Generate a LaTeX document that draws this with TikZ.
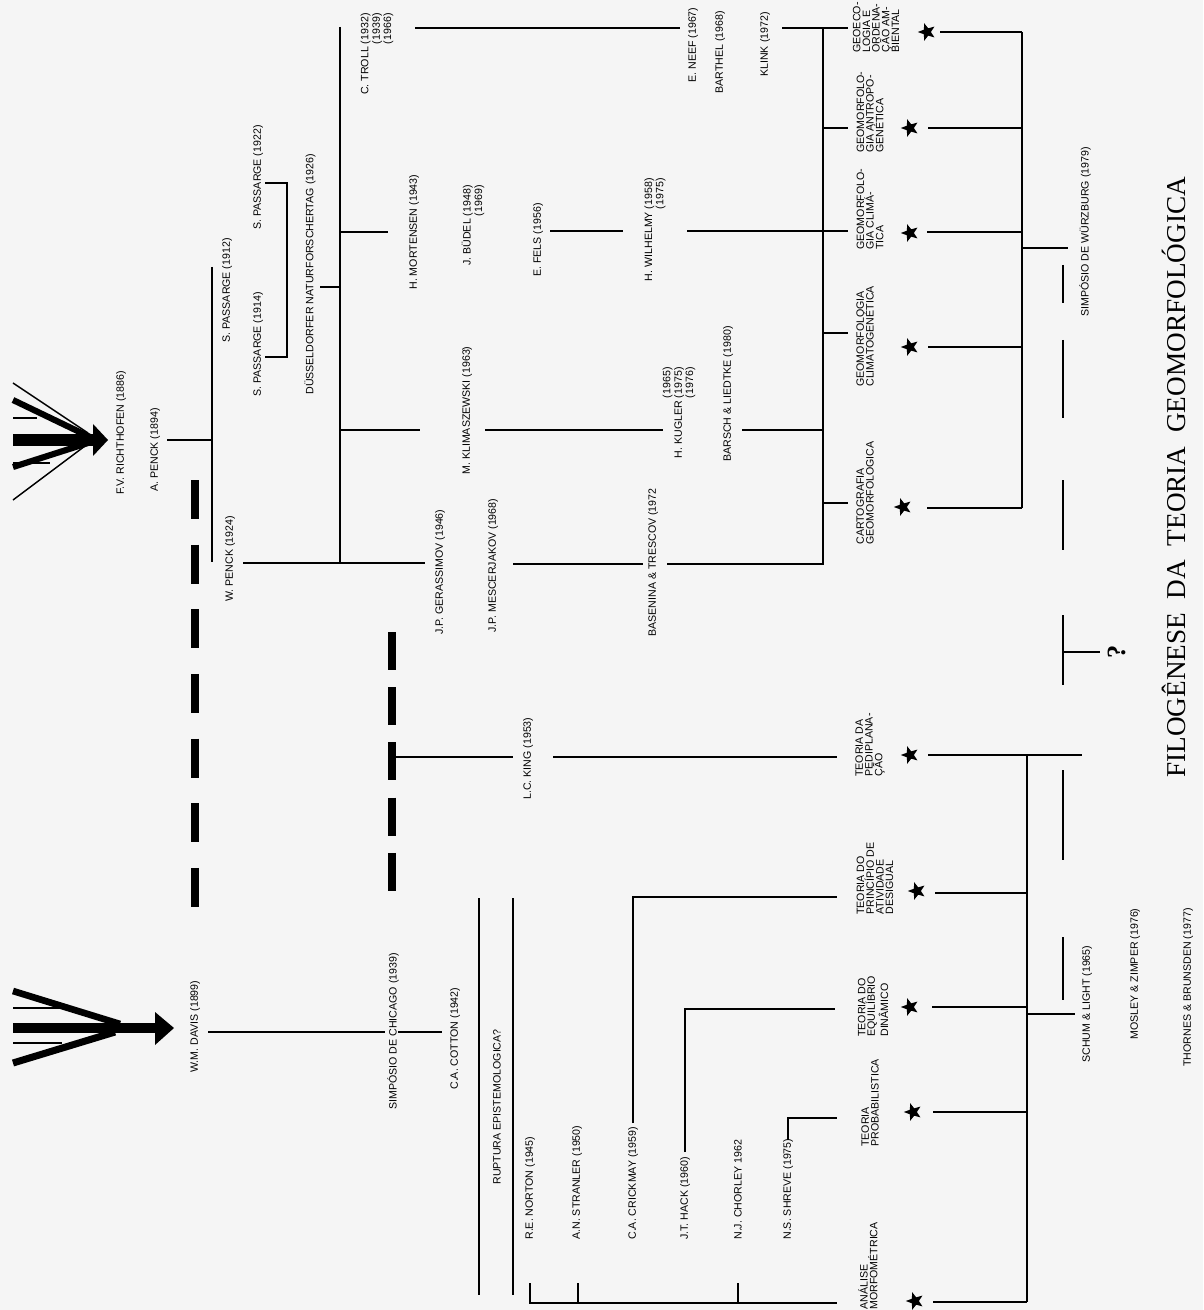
\documentclass[tikz,border=0pt]{standalone}
\usepackage{fontspec}
\setsansfont{Liberation Sans}
\newfontfamily\titlefont{Liberation Serif}
\usetikzlibrary{shapes.geometric}

\tikzset{
  author/.style={rotate=90, inner sep=0pt, font=\sffamily\fontsize{6.05}{6.5}\selectfont},
  theme/.style={rotate=90, inner sep=0pt, align=left, font=\sffamily\fontsize{6.05}{5.5}\selectfont},
  branch/.style={line width=1.5pt},
  twig/.style={line width=1.1pt},
  starmark/.style={star, star points=5, star point ratio=2.4, fill, inner sep=0pt, minimum size=0.37cm, shape border rotate=90},
}

\begin{document}
\begin{tikzpicture}[x=0.02cm, y=-0.02cm]
  \fill[black!4] (0,0) rectangle (1203,1310);
  \useasboundingbox (0,0) rectangle (1203,1310);

  % Arrow of Richthofen
  \fill (13,434) rectangle (95,446);
  \fill (93,424) -- (108,440) -- (93,456) -- cycle;
  \draw[line width=3.5pt] (13,400) -- (90,437);
  \draw[line width=3.5pt] (13,467) -- (88,443);
  \draw[line width=0.8pt] (13,383) -- (88,433);
  \draw[line width=0.8pt] (13,500) -- (85,446);
  \draw[line width=0.8pt] (13,418) -- (37,418) (13,463) -- (50,463);

  % Arrow of Davis
  \fill (13,1023) rectangle (160,1033);
  \fill (155,1012) -- (174,1028) -- (155,1045) -- cycle;
  \draw[line width=3.8pt] (13,991) -- (120,1024);
  \draw[line width=4pt] (13,1063) -- (115,1032);
  \draw[line width=0.8pt] (13,1008) -- (62,1008) (13,1043) -- (62,1043);

  % Authors, upper tree
  \node[author, anchor=west] (richthofen) at (121,495) {F.V. RICHTHOFEN (1886)};
  \node[author, anchor=west] (penckA) at (155,492) {A. PENCK (1894)};
  \node[author, anchor=west] (passarge12) at (227,343) {S. PASSARGE (1912)};
  \node[author, anchor=west] (passarge14) at (258,397) {S. PASSARGE (1914)};
  \node[author, anchor=west] (passarge22) at (258,230) {S. PASSARGE (1922)};
  \node[author, anchor=west] (dusseldorf) at (310,395) {DÜSSELDORFER NATURFORSCHERTAG (1926)};
  \node[author, anchor=east, align=right] (troll) at (377,13) {C. TROLL (1932)\\(1939)\\(1966)};
  \node[author, anchor=west] (mortensen) at (414,290) {H. MORTENSEN (1943)};
  \node[author, anchor=east, align=right] (budel) at (473,185) {J. BÜDEL (1948)\\(1969)};
  \node[author, anchor=west] (fels) at (538,277) {E. FELS (1956)};
  \node[author, anchor=east, align=right] (wilhelmy) at (655,178) {H. WILHELMY (1958)\\(1975)};
  \node[author, anchor=west] (neef) at (693,83) {E. NEEF (1967)};
  \node[author, anchor=west] (barthel) at (720,94) {BARTHEL (1968)};
  \node[author, anchor=west] (klink) at (765,77) {KLINK (1972)};
  \node[author, anchor=west] (klimaszewski) at (467,475) {M. KLIMASZEWSKI (1963)};
  \node[author, anchor=east, align=right] (kugler) at (679,367) {(1965)\\H. KUGLER (1975)\\(1976)};
  \node[author, anchor=west] (barsch) at (728,462) {BARSCH \& LIEDTKE (1980)};
  \node[author, anchor=west] (penckW) at (230,602) {W. PENCK (1924)};
  \node[author, anchor=west] (gerassimov) at (440,635) {J.P. GERASSIMOV (1946)};
  \node[author, anchor=west] (mescerjakov) at (493,633) {J.P. MESCERJAKOV (1968)};
  \node[author, anchor=west] (basenina) at (653,637) {BASENINA \& TRESCOV (1972};
  \node[author, anchor=west] (king) at (528,800) {L.C. KING (1953)};

  % Authors, lower tree
  \node[author, anchor=west] (davis) at (195,1073) {W.M. DAVIS (1899)};
  \node[author, anchor=west] (chicago) at (393,1110) {SIMPÓSIO DE CHICAGO (1939)};
  \node[author, anchor=west] (cotton) at (455,1090) {C.A. COTTON (1942)};
  \node[author, anchor=west] (ruptura) at (497,1185) {RUPTURA EPISTEMOLOGICA?};
  \node[author, anchor=west] (norton) at (530,1240) {R.E. NORTON (1945)};
  \node[author, anchor=west] (stranler) at (577,1240) {A.N. STRANLER (1950)};
  \node[author, anchor=west] (crickmay) at (633,1240) {C.A. CRICKMAY (1959)};
  \node[author, anchor=west] (hack) at (685,1240) {J.T. HACK (1960)};
  \node[author, anchor=west] (chorley) at (738,1240) {N.J. CHORLEY 1962};
  \node[author, anchor=west] (shreve) at (788,1240) {N.S. SHREVE (1975)};

  % Right column
  \node[author, anchor=west] (wurzburg) at (1085,317) {SIMPÓSIO DE WÜRZBURG (1979)};
  \node[author, anchor=west] (schum) at (1087,1063) {SCHUM \& LIGHT (1965)};
  \node[author, anchor=west] (mosley) at (1135,1040) {MOSLEY \& ZIMPER (1976)};
  \node[author, anchor=west] (thornes) at (1188,1067) {THORNES \& BRUNSDEN (1977)};

  % Themes
  \node[theme, anchor=west] (geoeco) at (876,53) {GEOECO-\\LOGIA E\\ORDENA-\\ÇÃO AM-\\BIENTAL};
  \node[theme, anchor=west] (antropo) at (870,153) {GEOMORFOLO-\\GIA ANTROPO-\\GENÉTICA};
  \node[theme, anchor=west] (climatica) at (870,250) {GEOMORFOLO-\\GIA CLIMÁ-\\TICA};
  \node[theme, anchor=west] (climatogen) at (865,387) {GEOMORFOLOGIA\\CLIMATOGENÉTICA};
  \node[theme, anchor=west] (cartografia) at (865,545) {CARTOGRAFIA\\GEOMORFOLOGICA};
  \node[theme, anchor=west] (pediplan) at (870,777) {TEORIA DA\\PEDIPLANA-\\ÇÃO};
  \node[theme, anchor=west] (atividade) at (875,915) {TEORIA DO\\PRINCÍPIO DE\\ATIVIDADE\\DESIGUAL};
  \node[theme, anchor=west] (equilibrio) at (873,1037) {TEORIA DO\\EQUILÍBRIO\\DINÂMICO};
  \node[theme, anchor=west] (probab) at (870,1147) {TEORIA\\PROBABILISTICA};
  \node[theme, anchor=west] (morfometria) at (868,1310) {ANÁLISE\\MORFOMÉTRICA};

  % Stars
  \node[starmark] (s1) at (927,32) {};
  \node[starmark] (s2) at (910,128) {};
  \node[starmark] (s3) at (910,233) {};
  \node[starmark] (s4) at (910,347) {};
  \node[starmark] (s5) at (903,507) {};
  \node[starmark] (s6) at (910,755) {};
  \node[starmark] (s7) at (917,891) {};
  \node[starmark] (s8) at (910,1007) {};
  \node[starmark] (s9) at (913,1112) {};
  \node[starmark] (s10) at (915,1301) {};

  % Title and question mark
  \node[rotate=90, anchor=base west, inner sep=0pt, font=\titlefont\fontsize{15.5}{16}\selectfont] (title) at (1185,778) {FILOGÊNESE\ \ DA\ \ TEORIA\ \ GEOMORFOLÓGICA};
  \node[rotate=90, inner sep=0pt, font=\titlefont\bfseries\fontsize{15}{15}\selectfont] (qmark) at (1117,652) {?};

  % Upper tree
  \draw[branch] (167,440) -- (212,440);
  \draw[branch] (212,267) -- (212,562);
  \draw[branch] (265,183) -- (287,183) -- (287,357) -- (265,357);
  \draw[branch] (320,287) -- (340,287);
  \draw[branch] (340,27) -- (340,563);
  \draw[branch] (415,28) -- (680,28) (782,28) -- (848,28);
  \draw[branch] (823,28) -- (823,565);
  \draw[branch] (340,232) -- (388,232) (550,231) -- (623,231) (687,231) -- (848,231);
  \draw[branch] (340,430) -- (420,430) (485,430) -- (663,430) (742,430) -- (823,430);
  \draw[branch] (823,128) -- (848,128) (823,333) -- (848,333) (823,503) -- (848,503);
  \draw[branch] (243,563) -- (425,563) (513,564) -- (643,564) (667,564) -- (823,564);
  \draw[line width=4pt, dash pattern=on 0.78cm off 0.513cm] (195,480) -- (195,908);

  % Right trunk, upper
  \draw[twig] (1022,32) -- (1022,508);
  \draw[twig] (940,32) -- (1022,32) (928,128) -- (1022,128) (927,232) -- (1022,232)
    (928,347) -- (1022,347) (927,508) -- (1022,508);
  \draw[twig] (1022,248) -- (1068,248);
  \draw[branch] (1063,265) -- (1063,303) (1063,340) -- (1063,418) (1063,480) -- (1063,550)
    (1063,615) -- (1063,685) (1063,770) -- (1063,860) (1063,937) -- (1063,1000);
  \draw[branch] (1063,652) -- (1100,652);

  % Lower tree
  \draw[line width=4pt, dash pattern=on 0.76cm off 0.345cm] (392,632) -- (392,892);
  \draw[branch] (392,757) -- (513,757) (553,757) -- (837,757);
  \draw[branch] (208,1032) -- (385,1032) (398,1032) -- (442,1032);
  \draw[branch] (479,898) -- (479,1295) (513,898) -- (513,1295);
  \draw[branch] (530,1283) -- (530,1303) -- (837,1303);
  \draw[branch] (578,1283) -- (578,1303) (738,1283) -- (738,1303);
  \draw[branch] (633,1123) -- (633,897) -- (837,897);
  \draw[branch] (685,1152) -- (685,1009) -- (835,1009);
  \draw[branch] (788,1140) -- (788,1118) -- (837,1118);

  % Right trunk, lower
  \draw[twig] (1027,755) -- (1027,1302);
  \draw[twig] (928,755) -- (1082,755) (935,893) -- (1027,893) (932,1007) -- (1027,1007)
    (933,1112) -- (1027,1112) (933,1302) -- (1027,1302);
  \draw[twig] (1027,1014) -- (1075,1014);
\end{tikzpicture}
\end{document}
